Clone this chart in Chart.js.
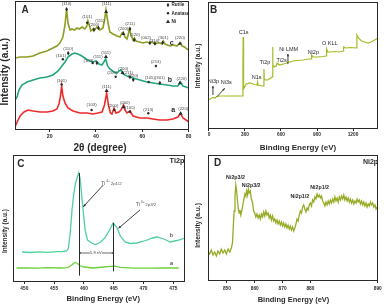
<!DOCTYPE html>
<html>
<head>
<meta charset="utf-8">
<script src="https://cdn.jsdelivr.net/npm/chart.js@4.4.1/dist/chart.umd.min.js"></script>
<style>
  body { margin: 0; background: #fff; }
  #wrap { position: relative; width: 386px; height: 306px; }
  canvas { position: absolute; }
</style>
</head>
<body>
<div id="wrap">
  <canvas id="xrd" width="193" height="153" style="left:0;top:0"></canvas>
  <canvas id="survey" width="193" height="153" style="left:193px;top:0"></canvas>
  <canvas id="ti2p" width="193" height="153" style="left:0;top:153px"></canvas>
  <canvas id="ni2p" width="193" height="153" style="left:193px;top:153px"></canvas>
</div>
<script>
const FONT = "'Liberation Sans', Arial, Helvetica, sans-serif";
const INK = '#2a2a2a';

// ---- A: XRD patterns (2theta, intensity a.u.) ----
const xrdTicks = [20, 40, 60, 80];
const xrdC = [[5.0,71],[7.2,72],[10.2,72],[12.8,73],[15.8,76],[18.8,78],[21.4,81],[23.1,83],[24.4,86],[25.7,92],[26.6,104],[27.3,120],[27.9,106],[28.8,99],[29.6,100],[30.7,99],[31.8,101],[32.8,100],[33.9,102],[35.2,100],[36.1,103],[36.5,108],[37.2,103],[37.8,98],[38.7,100],[39.1,98],[40.4,102],[41.7,99],[43.0,101],[43.7,109],[44.3,119],[45.2,106],[46.0,97],[47.4,95],[48.3,94],[49.1,93],[50.4,92],[51.25,96],[51.8,97],[52.5,92],[53.4,90],[53.9,94],[54.4,100],[55.2,94],[56.0,89],[56.65,91],[57.3,88],[58.8,87],[60.3,86],[61.8,87],[63.3,86],[64.2,87],[65.5,85],[66.5,86],[67.6,86],[68.5,85],[69.1,88],[69.8,85],[72.0,83],[73.5,84],[75.0,83],[75.85,85],[76.6,86],[77.2,83],[78.3,82],[79.3,80],[80.2,79]];
const xrdB = [[5.0,29],[5.9,32],[6.7,39],[8.0,44],[10.2,47],[12.8,49],[15.8,51],[18.8,52],[21.4,54],[23.6,58],[25.3,63],[26.6,67],[27.9,72],[29.6,75],[30.9,76],[32.2,75],[33.9,73],[35.7,70],[37.4,68],[38.7,67],[40.0,68],[41.3,65],[42.6,64],[43.4,67],[44.2,70],[45.0,63],[46.0,60],[47.8,57],[49.1,56],[49.9,58],[50.8,59],[51.65,55],[53.4,53],[54.7,52],[56.0,51],[59.0,49],[62.0,47],[64.6,46],[67.6,45],[70.7,44],[73.25,43],[75.4,43],[76.5,47],[77.6,43],[80.2,41]];
const xrdA = [[5.0,2],[5.9,7],[7.2,13],[8.9,17],[10.6,19],[12.8,18],[15.8,17],[18.8,17],[21.4,18],[23.1,20],[24.0,25],[24.65,33],[25.17,43],[25.7,33],[26.6,26],[27.9,21],[30.05,18],[33.1,16],[36.1,16],[38.7,15],[40.85,16],[42.6,17],[43.66,24],[44.6,36],[45.4,24],[46.25,16],[46.9,15],[47.8,21],[48.6,16],[49.9,17],[50.8,19],[51.9,24],[52.5,19],[53.4,16],[54.7,18],[56.0,13],[59.0,11],[62.0,11],[64.6,10],[67.6,9],[70.7,9],[73.25,10],[75.4,12],[76.5,16],[77.6,11],[80.2,7]];
const xrdIndexLabels = [
  [27.3,125.5,'(110)'],[36.2,111.7,'(101)'],[39.25,104,'(200)'],[41.7,108.3,'(111)'],[44.6,125.5,'(111)'],
  [51.8,99.7,'(200)'],[54.7,105,'(211)'],[56.8,94,'(220)'],[61.6,90.7,'(002)'],[65.3,88,'(310)'],
  [69.1,91.2,'(301)'],[76.3,90.7,'(220)'],
  [24.9,73.3,'(101)'],[28.0,80,'(110)'],[36.75,68,'(103)'],[40.85,71.7,'(111)'],[44.3,75.7,'(111)'],
  [47.0,55.7,'(200)'],[51.8,60.3,'(200)'],[53.9,56.3,'(211)'],[56.1,53,'(220)'],[65.9,67.3,'(213)'],
  [63.3,51.5,'(105)'],[67.6,51.5,'(301)'],[77.0,50.5,'(220)'],
  [25.17,48,'(101)'],[44.6,42.3,'(111)'],[38.1,24,'(103)'],[47.5,23,'(200)'],[52.5,26.3,'(200)'],
  [54.7,20.7,'(105)'],[62.6,19,'(213)'],[77.7,19.7,'(220)']
];
const xrdMarkers = [
  [27.3,119.7,'r'],[36.2,106.3,'a'],[39.1,99.5,'r'],[41.07,101,'r'],[44.4,117.5,'n'],[51.8,95.5,'n'],
  [54.7,100,'r'],[56.5,89,'r'],[63.3,86,'r'],[65.5,85.5,'r'],[68.8,86.3,'r'],[76.3,85.7,'n'],
  [25.7,69.7,'a'],[28.0,75.7,'r'],[38.56,66,'a'],[40.4,66,'r'],[44.3,72.5,'n'],[48.5,52.3,'a'],
  [51.5,56.5,'n'],[54.7,52,'r'],[56.1,49.3,'r'],[65.9,63,'a'],[62.75,47,'a'],[67.6,46,'r'],[76.3,46.3,'n'],
  [25.17,44.5,'a'],[44.6,38.5,'n'],[38.1,19,'a'],[47.9,19,'a'],[51.95,22.3,'n'],[54.7,17.3,'a'],
  [62.6,15.7,'a'],[76.6,15.7,'n']
];
const xrdCurveNames = [[72.7,86.3,'c'],[71.95,48.5,'b'],[73.4,19,'a']];
const phaseNames = ['Rutile', 'Anatase', 'Ni'];
const phaseKinds = ['r', 'a', 'n'];

// ---- B: XPS survey (binding energy eV, intensity a.u.) ----
const surveyTicks = [0, 300, 600, 900, 1200];
const survey = [[-8,29],[10,30],[25,31],[35,31.5],[50,31],[65,32.5],[90,33],[140,33],[200,33],[250,33],[280,33],[283,60],[285,92],[287,60],[290,40],[297,42],[310,45],[340,46],[380,44.5],[400,44],[405,47],[410,44],[440,43],[455,43],[458,60],[461,50],[470,49],[490,49],[515,51],[527,52],[530,82],[533,64],[545,62],[561,63],[568,66],[575,65],[590,64],[620,65],[650,66],[660,67],[680,67],[700,68],[740,68.5],[783,69],[830,70],[850,70],[855,74],[867,72],[900,72],[950,72.5],[975,73],[980,80],[990,77],[1010,77],[1050,77.5],[1080,77],[1117,78],[1122,82],[1140,81],[1180,81.5],[1228,81],[1232,94],[1245,91],[1270,88],[1300,87],[1325,86],[1350,87],[1380,89],[1408,91]];
const surveyPeaks = [[289,96.3,'C1s'],[467,66.3,'Ti2p'],[397,51.7,'N1s'],[606,68.3,'Ti2s'],[664,80,'Ni LMM'],[869,76.7,'Ni2p'],[1006,85.7,'O KLL'],[37,47.3,'Ni3p'],[144,46.5,'Ni3s']];
const surveyArrows = [[33,34,33,43],[67,32.3,131,40.7],[658,65,658,75]];

// ---- C: Ti2p (binding energy eV, intensity a.u.) ----
const tiTicks = [450, 455, 460, 465, 470, 475];
const tiB = [[449.6,30],[451,29.5],[452.5,30.2],[454,29.6],[455.5,30.3],[456.5,30.5],[457.1,31],[457.4,34],[457.7,49],[458.0,72],[458.3,88],[458.6,99],[459.1,109],[459.35,104],[459.8,76],[460.2,52],[460.6,42],[461.3,39],[461.9,37.5],[462.7,39.5],[463.5,44],[464.3,52],[464.9,59],[465.5,55],[466.1,46],[466.9,40],[467.8,38.5],[468.9,39],[469.8,40.5],[470.6,42],[471.5,44],[472.3,45],[473.4,43],[474.5,40],[475.6,41.5],[477.0,44]];
const tiA = [[448.7,14],[450.5,14.2],[452,13.8],[454,14.3],[456,14],[457.3,14.3],[458.0,17.3],[458.5,19.5],[458.9,18.5],[459.3,16.5],[460.0,15],[461.6,14],[463.3,15],[464.4,15.7],[465.2,15.8],[466.1,14.7],[468.3,13.8],[471.1,13.8],[473.5,14],[475.9,14]];
const tiPeakLines = [[459.1,109,6.3],[464.9,59,10.7]];
const tiSplitLabel = '5.8 eV';
const tiStates = [['2p1/2',462.9,98],['2p3/2',468.7,77]];
const tiArrows = [[463.25,97,459.9,75.3],[469.4,72,465.8,53.7]];

// ---- D: Ni2p (binding energy eV, intensity a.u.) ----
const niTickValues = [850, 860, 870, 880, 904.2];
const niTickLabels = ['850', '860', '870', '880', '890'];
const ni = [[843.2,30],[843.8,27],[844.4,31],[845.0,26],[845.6,29],[846.2,25],[846.8,30],[847.4,27],[848.0,32],[848.6,28],[849.2,31],[849.8,27],[850.4,32],[851.0,29],[851.6,33],[852.0,38],[852.3,55],[852.6,70],[852.9,85],[853.2,96],[853.5,90],[853.8,80],[854.1,72],[854.4,68],[854.7,71],[855.0,66],[855.3,70],[855.6,74],[855.9,79],[856.2,83],[856.5,87],[856.8,85],[857.1,90],[857.4,86],[857.7,92],[858.0,88],[858.4,90],[858.8,82],[859.2,78],[859.6,70],[860.0,68],[860.4,64],[860.8,67],[861.2,63],[861.6,66],[862.0,62],[862.4,67],[862.8,64],[863.2,69],[863.6,65],[864.0,70],[864.4,66],[864.8,68],[865.2,63],[865.6,66],[866.0,61],[866.4,65],[866.8,60],[867.2,62],[867.6,58],[868.0,61],[868.4,57],[868.8,60],[869.2,56],[869.6,59],[870.0,55],[870.4,58],[870.8,54],[871.2,57],[871.6,53],[872.0,56],[872.4,52],[872.8,55],[873.2,51],[873.6,54],[874.0,50],[874.4,53],[874.8,57],[875.2,62],[875.6,60],[876.0,66],[876.4,70],[876.8,68],[877.2,74],[877.6,76],[878.0,72],[878.4,69],[878.8,73],[879.2,71],[879.6,76],[880.0,78],[880.4,75],[880.8,81],[881.2,79],[881.6,84],[882.0,82],[882.4,87],[882.8,84],[883.2,86],[883.6,83],[884.0,85],[884.4,80],[884.8,78],[885.2,75],[885.6,79],[886.0,76],[886.4,80],[886.8,77],[887.2,81],[887.6,78],[888.0,82],[888.4,79],[888.8,84],[889.2,80],[889.6,83],[890.0,79],[890.4,84],[890.8,81],[891.2,85],[891.6,82],[892.0,86],[892.4,81],[892.8,84],[893.2,80],[893.6,83],[894.0,79],[894.4,82],[894.8,78],[895.2,81],[895.6,77],[896.0,80],[896.4,78],[896.8,82],[897.2,79],[897.6,81],[898.0,77],[898.4,80],[898.8,76],[899.2,79],[899.6,75],[900.0,78],[900.4,74],[900.8,77],[901.2,75],[901.6,79],[902.0,76],[902.4,78],[902.8,74],[903.2,76],[903.6,72],[904.0,74]];
const niPeaks = [[853.1,103,'Ni2p3/2'],[858.7,95.7,'Ni2p3/2'],[876.2,84.7,'Ni2p1/2'],[883.3,93,'Ni2p1/2']];

function text(ctx, str, x, y, font, align) {
  ctx.font = font + ' ' + FONT;
  ctx.textAlign = align || 'center';
  ctx.textBaseline = 'middle';
  ctx.fillText(str, x, y);
}

function vtext(ctx, str, x, y, font) {
  ctx.save();
  ctx.translate(x, y);
  ctx.rotate(-Math.PI / 2);
  text(ctx, str, 0, 0, font);
  ctx.restore();
}

function mark(ctx, kind, x, y) {
  ctx.beginPath();
  if (kind === 'r') {
    ctx.moveTo(x, y - 2.3); ctx.lineTo(x + 1.4, y); ctx.lineTo(x, y + 2.3); ctx.lineTo(x - 1.4, y);
  } else if (kind === 'a') {
    ctx.arc(x, y, 1.2, 0, Math.PI * 2);
  } else {
    ctx.moveTo(x, y - 2); ctx.lineTo(x + 2, y + 1.5); ctx.lineTo(x - 2, y + 1.5);
  }
  ctx.closePath();
  ctx.fill();
}

function arrow(ctx, x1, y1, x2, y2, head) {
  ctx.beginPath(); ctx.moveTo(x1, y1); ctx.lineTo(x2, y2); ctx.stroke();
  const a = Math.atan2(y2 - y1, x2 - x1);
  ctx.beginPath();
  ctx.moveTo(x2, y2);
  ctx.lineTo(x2 - head * Math.cos(a - 0.45), y2 - head * Math.sin(a - 0.45));
  ctx.lineTo(x2 - head * Math.cos(a + 0.45), y2 - head * Math.sin(a + 0.45));
  ctx.closePath(); ctx.fill();
}

function decorPlugin(draw) {
  return {
    id: 'decor',
    afterDatasetsDraw(chart) {
      const ctx = chart.ctx;
      const a = chart.chartArea;
      const at = (x, y) => [chart.scales.x.getPixelForValue(x), chart.scales.y.getPixelForValue(y)];
      ctx.save();
      ctx.strokeStyle = INK;
      ctx.lineWidth = 1;
      ctx.strokeRect(Math.round(a.left) + 0.5, Math.round(a.top) + 0.5,
        Math.round(a.right - a.left) - 1, Math.round(a.bottom - a.top) - 1);
      ctx.fillStyle = INK;
      draw(ctx, at, a);
      ctx.restore();
    }
  };
}

function makeChart(id, cfg) {
  return new Chart(document.getElementById(id), {
    type: 'line',
    data: {
      datasets: cfg.series.map(s => ({
        data: s.points.map(([x, y]) => ({ x, y })),
        borderColor: s.color,
        borderWidth: s.width,
        pointRadius: 0,
        tension: 0,
        fill: false,
      })),
    },
    options: {
      responsive: false,
      animation: false,
      devicePixelRatio: 1,
      events: [],
      layout: { padding: cfg.pad },
      plugins: { legend: { display: false }, tooltip: { enabled: false } },
      scales: {
        x: {
          type: 'linear',
          min: cfg.xMin,
          max: cfg.xMax,
          afterBuildTicks: s => { s.ticks = cfg.ticks.map(v => ({ value: v })); },
          afterFit: s => { s.height = cfg.xHeight; s.paddingLeft = 0; s.paddingRight = 0; },
          ticks: {
            autoSkip: false, maxRotation: 0, minRotation: 0,
            padding: cfg.tickPad,
            color: INK,
            font: { family: FONT, size: cfg.tickSize, weight: 'bold' },
            callback: (v, i) => cfg.tickLabels ? cfg.tickLabels[i] : String(v),
          },
          grid: { display: true, drawOnChartArea: false, drawTicks: true, tickLength: 2, color: INK },
          border: { display: false },
          title: { display: false },
        },
        y: {
          min: cfg.yMin,
          max: cfg.yMax,
          ticks: { display: false },
          grid: { display: false },
          border: { display: false },
          title: { display: false },
          afterFit: s => { s.width = cfg.yWidth; s.paddingTop = 0; s.paddingBottom = 0; },
        },
      },
    },
    plugins: [decorPlugin(cfg.draw)],
  });
}

makeChart('xrd', {
  series: [
    { points: xrdC, color: '#8f9d22', width: 1.6 },
    { points: xrdB, color: '#22a878', width: 1.6 },
    { points: xrdA, color: '#ee2b2b', width: 1.6 },
  ],
  xMin: 5, xMax: 80.2, yMin: -1, yMax: 128,
  ticks: xrdTicks, tickSize: 5.2, tickPad: 1.6,
  pad: { left: 0, right: 4, top: 1, bottom: 0 }, xHeight: 23, yWidth: 15,
  draw(ctx, at, area) {
    ctx.fillStyle = '#444';
    xrdIndexLabels.forEach(([x, y, t]) => { const p = at(x, y); text(ctx, t, p[0], p[1], '4.3px'); });
    ctx.fillStyle = INK;
    xrdMarkers.forEach(([x, y, k]) => { const p = at(x, y); mark(ctx, k, p[0], p[1]); });
    xrdCurveNames.forEach(([x, y, t]) => { const p = at(x, y); text(ctx, t, p[0], p[1], 'bold 7px'); });
    phaseNames.forEach((name, i) => {
      const y = area.top + 4 + i * 8.3;
      mark(ctx, phaseKinds[i], area.right - 21, y);
      text(ctx, name, area.right - 17.5, y, 'bold 4.6px', 'left');
    });
    text(ctx, 'A', 25, 10.3, 'bold 10px');
    vtext(ctx, 'Intensity (a.u.)', 5.5, 71.7, 'bold 10px');
    text(ctx, '2θ (degree)', 100, 148.3, 'bold 10px');
  },
});

makeChart('survey', {
  series: [{ points: survey, color: '#a2bd26', width: 1.2 }],
  xMin: -8, xMax: 1408, yMin: 0, yMax: 127,
  ticks: surveyTicks, tickSize: 4.8, tickPad: 1.1,
  pad: { left: 0, right: 8, top: 2, bottom: 0 }, xHeight: 24, yWidth: 15,
  draw(ctx, at) {
    surveyPeaks.forEach(([x, y, t]) => { const p = at(x, y); text(ctx, t, p[0], p[1], '5.5px'); });
    ctx.strokeStyle = INK;
    ctx.lineWidth = 0.9;
    surveyArrows.forEach(([x1, y1, x2, y2]) => {
      const p = at(x1, y1), q = at(x2, y2);
      arrow(ctx, p[0], p[1], q[0], q[1], 2.6);
    });
    text(ctx, 'B', 20.5, 10.5, 'bold 10px');
    vtext(ctx, 'Intensity (a.u.)', 5.5, 66, 'bold 6.6px');
    text(ctx, 'Binding Energy (eV)', 105, 147.7, 'bold 8px');
  },
});

makeChart('ti2p', {
  series: [
    { points: tiB, color: '#4fd09c', width: 1.3 },
    { points: tiA, color: '#6dcf3a', width: 1.3 },
  ],
  xMin: 448.1, xMax: 476.96, yMin: 0, yMax: 127,
  ticks: tiTicks, tickSize: 4.8, tickPad: 1.4,
  pad: { left: 0, right: 8, top: 2, bottom: 0 }, xHeight: 24, yWidth: 13,
  draw(ctx, at) {
    ctx.strokeStyle = INK;
    ctx.lineWidth = 1;
    tiPeakLines.forEach(([x, top, bottom]) => {
      const p = at(x, top), q = at(x, bottom);
      ctx.beginPath(); ctx.moveTo(Math.round(p[0]) + 0.5, p[1]); ctx.lineTo(Math.round(q[0]) + 0.5, q[1]); ctx.stroke();
    });
    const l = at(tiPeakLines[0][0], 29), r = at(tiPeakLines[1][0], 29);
    ctx.lineWidth = 0.7;
    arrow(ctx, (l[0] + r[0]) / 2, l[1], l[0] + 0.5, l[1], 2);
    arrow(ctx, (l[0] + r[0]) / 2, r[1], r[0] + 0.5, r[1], 2);
    ctx.fillStyle = '#fff';
    ctx.fillRect((l[0] + r[0]) / 2 - 6, l[1] - 2, 12, 4);
    ctx.fillStyle = '#444';
    text(ctx, tiSplitLabel, (l[0] + r[0]) / 2, l[1], '4px');
    ctx.fillStyle = INK;
    ctx.lineWidth = 0.9;
    tiArrows.forEach(([x1, y1, x2, y2]) => {
      const p = at(x1, y1), q = at(x2, y2);
      arrow(ctx, p[0], p[1], q[0], q[1], 2.8);
    });
    ctx.fillStyle = '#555';
    tiStates.forEach(([state, x, y]) => {
      const p = at(x, y);
      text(ctx, 'Ti', p[0], p[1], '5px', 'left');
      text(ctx, '4+', p[0] + 5, p[1] - 3, '3.4px', 'left');
      text(ctx, state, p[0] + 9.5, p[1], '4.4px', 'left');
    });
    ctx.fillStyle = INK;
    text(ctx, 'b', at(474.7, 46.3)[0], at(474.7, 46.3)[1], '6px');
    text(ctx, 'a', at(474.7, 19)[0], at(474.7, 19)[1], '6px');
    text(ctx, 'C', 20.8, 10.8, 'bold 10px');
    text(ctx, 'Ti2p', 177, 8.3, 'bold 7.3px');
    vtext(ctx, 'Intensity (a.u.)', 5.5, 78, 'bold 6.5px');
    text(ctx, 'Binding Energy (eV)', 103.3, 146.3, 'bold 7.7px');
  },
});

makeChart('ni2p', {
  series: [{ points: ni, color: '#98aa26', width: 1.3 }],
  xMin: 843.2, xMax: 904.3, yMin: 0, yMax: 126,
  ticks: niTickValues, tickLabels: niTickLabels, tickSize: 4.8, tickPad: 2.4,
  pad: { left: 0, right: 8, top: 2, bottom: 0 }, xHeight: 25, yWidth: 15,
  draw(ctx, at) {
    niPeaks.forEach(([x, y, t]) => { const p = at(x, y); text(ctx, t, p[0], p[1], 'bold 5.3px'); });
    text(ctx, 'D', 24.5, 10.3, 'bold 10px');
    text(ctx, 'Ni2p', 177.5, 9, 'bold 7px');
    vtext(ctx, 'Intensity (a.u.)', 5.5, 72.5, 'bold 6.6px');
    text(ctx, 'Binding Energy (eV)', 100.5, 147, 'bold 7.5px');
  },
});
</script>
</body>
</html>
